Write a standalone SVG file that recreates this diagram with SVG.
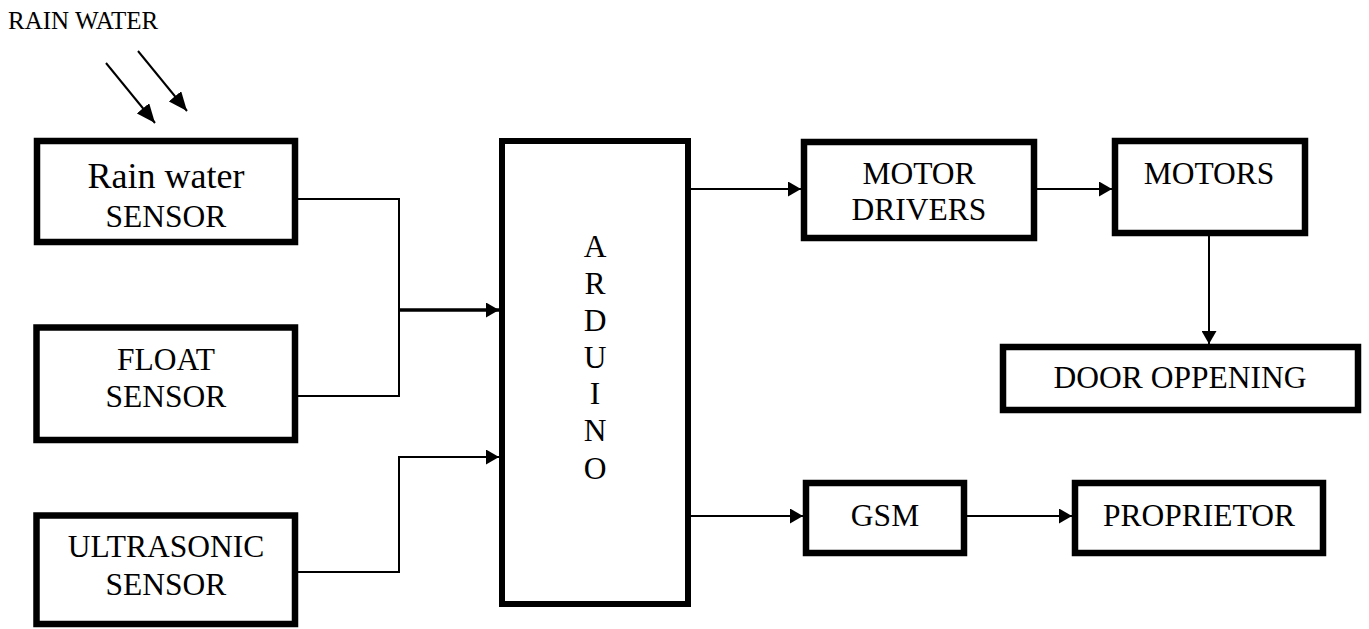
<svg xmlns="http://www.w3.org/2000/svg" width="1369" height="629" viewBox="0 0 1369 629" font-family="'Liberation Serif', 'Times New Roman', serif">
<style>
.box{fill:#fff;stroke:#000;stroke-width:6.5}
text{font-family:"Liberation Serif","Times New Roman",serif}
.t{font-size:31.5px;fill:#000;text-anchor:middle}
.c{fill:none;stroke:#000;stroke-width:2}
</style>
<defs>
<marker id="ah" markerUnits="userSpaceOnUse" markerWidth="13" markerHeight="15" refX="13" refY="7.5" orient="auto">
<path d="M0,0 L13,7.5 L0,15 z" fill="#000"/>
</marker>
<marker id="ahd" markerUnits="userSpaceOnUse" markerWidth="19" markerHeight="16" refX="19" refY="8" orient="auto">
<path d="M0,0 L19,8 L0,16 z" fill="#000"/>
</marker>
</defs>
<rect width="1369" height="629" fill="#fff"/>
<g id="rain-label">
<text x="8" y="29" font-size="25" fill="#000">RAIN WATER</text>
</g>
<g id="rain-sensor">
<rect class="box" x="37" y="141" width="258" height="101"/>
<text class="t" x="166" y="188" font-size="36" style="font-size:36px">Rain water</text>
<text class="t" x="166" y="227">SENSOR</text>
</g>
<g id="float-sensor">
<rect class="box" x="36.5" y="327.5" width="258.5" height="112.5"/>
<text class="t" x="166" y="370">FLOAT</text>
<text class="t" x="166" y="407">SENSOR</text>
</g>
<g id="ultrasonic-sensor">
<rect class="box" x="36.5" y="515.5" width="258.5" height="108.5"/>
<text class="t" x="166" y="557">ULTRASONIC</text>
<text class="t" x="166" y="595">SENSOR</text>
</g>
<g id="arduino">
<rect class="box" x="502" y="141" width="186" height="463" style="stroke-width:6"/>
<text class="t" x="595" y="257">A</text>
<text class="t" x="595" y="294">R</text>
<text class="t" x="595" y="331">D</text>
<text class="t" x="595" y="368">U</text>
<text class="t" x="595" y="404">I</text>
<text class="t" x="595" y="441">N</text>
<text class="t" x="595" y="479">O</text>
</g>
<g id="motor-drivers">
<rect class="box" x="804" y="142" width="230" height="96"/>
<text class="t" x="919" y="184">MOTOR</text>
<text class="t" x="919" y="220">DRIVERS</text>
</g>
<g id="motors">
<rect class="box" x="1115" y="141" width="190" height="92"/>
<text class="t" x="1209" y="184">MOTORS</text>
</g>
<g id="door-opening">
<rect class="box" x="1003" y="347" width="355" height="63"/>
<text class="t" x="1180" y="388">DOOR OPPENING</text>
</g>
<g id="gsm">
<rect class="box" x="806" y="483" width="158" height="70"/>
<text class="t" x="885" y="526">GSM</text>
</g>
<g id="proprietor">
<rect class="box" x="1075" y="483" width="248" height="70"/>
<text class="t" x="1199" y="526">PROPRIETOR</text>
</g>
<g id="connectors">
<line class="c" x1="106" y1="63" x2="155" y2="123" marker-end="url(#ahd)"/>
<line class="c" x1="138" y1="51" x2="187" y2="111" marker-end="url(#ahd)"/>
<path class="c" d="M298,199 H399 V396 H298"/>
<path class="c" d="M399,310 H499" style="stroke-width:3.5" marker-end="url(#ah)"/>
<path class="c" d="M298,572 H399 V457 H499" marker-end="url(#ah)"/>
<path class="c" d="M691,189 H801" marker-end="url(#ah)"/>
<path class="c" d="M1037,189 H1112" marker-end="url(#ah)"/>
<path class="c" d="M1209,236 V344" marker-end="url(#ah)"/>
<path class="c" d="M691,516 H803" marker-end="url(#ah)"/>
<path class="c" d="M967,516 H1072" marker-end="url(#ah)"/>
</g>
</svg>
